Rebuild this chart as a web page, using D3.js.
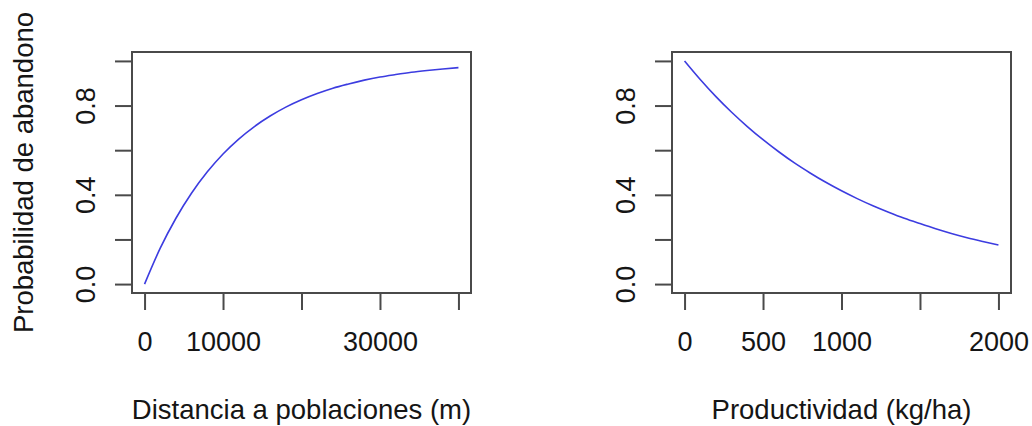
<!DOCTYPE html>
<html>
<head>
<meta charset="utf-8">
<script src="https://cdn.jsdelivr.net/npm/d3@7"></script>
<style>
  html, body { margin: 0; padding: 0; background: #fff; }
  svg { display: block; }
  text { font-family: "Liberation Sans", Arial, Helvetica, sans-serif; fill: #151515; }
</style>
</head>
<body>
<svg id="chart" width="1032" height="426"></svg>
<script>
// Distance to settlements (m) and predicted probability of abandonment
const distX = [0, 2000, 4000, 6000, 8000, 10000, 12000, 14000, 16000, 18000, 20000,
               22000, 24000, 26000, 28000, 30000, 32000, 34000, 36000, 38000, 40000];
const distP = [0.000, 0.161, 0.295, 0.408, 0.503, 0.583, 0.650, 0.706, 0.753, 0.793, 0.826,
               0.854, 0.878, 0.897, 0.914, 0.928, 0.939, 0.949, 0.957, 0.964, 0.970];

// Productivity (kg/ha) and predicted probability of abandonment
const prodX = [0, 100, 200, 300, 400, 500, 600, 700, 800, 900, 1000,
               1100, 1200, 1300, 1400, 1500, 1600, 1700, 1800, 1900, 2000];
const prodP = [1.000, 0.917, 0.840, 0.770, 0.706, 0.647, 0.593, 0.543, 0.498, 0.456, 0.418,
               0.383, 0.351, 0.322, 0.295, 0.271, 0.248, 0.227, 0.208, 0.191, 0.175];

// Axis ticks and which of them carry a label
const distTicks = [0, 10000, 20000, 30000, 40000];
const distTickLabels = ["0", "10000", "", "30000", ""];
const prodTicks = [0, 500, 1000, 1500, 2000];
const prodTickLabels = ["0", "500", "1000", "", "2000"];
const probTicks = [0, 0.2, 0.4, 0.6, 0.8, 1.0];
const probTickLabels = ["0.0", "", "0.4", "", "0.8", ""];

const yLabel = "Probabilidad de abandono";
const distTitle = "Distancia a poblaciones (m)";
const prodTitle = "Productividad (kg/ha)";

const svg = d3.select("#chart");
const plotTop = 52, plotBottom = 293;
const tickLen = 17;
const tickFont = 27, titleFont = 27.5;
const frameColor = "#4a4a4a";
const lineColor = "#3c3ce0";

const y = d3.scaleLinear().domain([-0.04, 1.04]).range([plotBottom, plotTop]);

function panel(opts) {
  const { xs, ps, xDomain, left, right, ticks, tickLabels, title } = opts;
  const x = d3.scaleLinear().domain(xDomain).range([left, right]);
  const g = svg.append("g");

  // bottom axis
  const xAxis = d3.axisBottom(x).tickValues(ticks).tickSizeInner(tickLen).tickSizeOuter(0)
    .tickFormat((d, i) => tickLabels[i]);
  const gx = g.append("g").attr("transform", `translate(0,${plotBottom})`).call(xAxis);
  gx.select(".domain").remove();
  gx.selectAll(".tick line").attr("stroke", frameColor).attr("stroke-width", 2);
  gx.selectAll(".tick text").attr("y", 58).attr("dy", 0)
    .style("font-size", tickFont + "px").attr("fill", "#151515");

  // left axis
  const yAxis = d3.axisLeft(y).tickValues(probTicks).tickSizeInner(tickLen).tickSizeOuter(0)
    .tickFormat((d, i) => probTickLabels[i]);
  const gy = g.append("g").attr("transform", `translate(${left},0)`).call(yAxis);
  gy.select(".domain").remove();
  gy.selectAll(".tick line").attr("stroke", frameColor).attr("stroke-width", 2);
  gy.selectAll(".tick text").attr("x", null).attr("dy", 0)
    .attr("text-anchor", "middle")
    .attr("transform", "translate(-37,0) rotate(-90)")
    .style("font-size", tickFont + "px").attr("fill", "#151515");

  // plot frame
  g.append("rect")
    .attr("x", left).attr("y", plotTop)
    .attr("width", right - left).attr("height", plotBottom - plotTop)
    .attr("fill", "none").attr("stroke", frameColor).attr("stroke-width", 2);

  // fitted curve
  const line = d3.line().x((d, i) => x(xs[i])).y(d => y(d)).curve(d3.curveMonotoneX);
  g.append("path").datum(ps).attr("d", line)
    .attr("fill", "none").attr("stroke", lineColor).attr("stroke-width", 1.6);

  // x title
  g.append("text").attr("x", (left + right) / 2).attr("y", 419)
    .attr("text-anchor", "middle").style("font-size", titleFont + "px").text(title);
}

panel({ xs: distX, ps: distP, xDomain: [-1600, 41600], left: 132, right: 471,
        ticks: distTicks, tickLabels: distTickLabels, title: distTitle });
panel({ xs: prodX, ps: prodP, xDomain: [-80, 2080], left: 672, right: 1011,
        ticks: prodTicks, tickLabels: prodTickLabels, title: prodTitle });

// shared y title
svg.append("text")
  .attr("transform", `translate(33,${(plotTop + plotBottom) / 2}) rotate(-90)`)
  .attr("text-anchor", "middle").style("font-size", titleFont + "px").text(yLabel);
</script>
</body>
</html>
